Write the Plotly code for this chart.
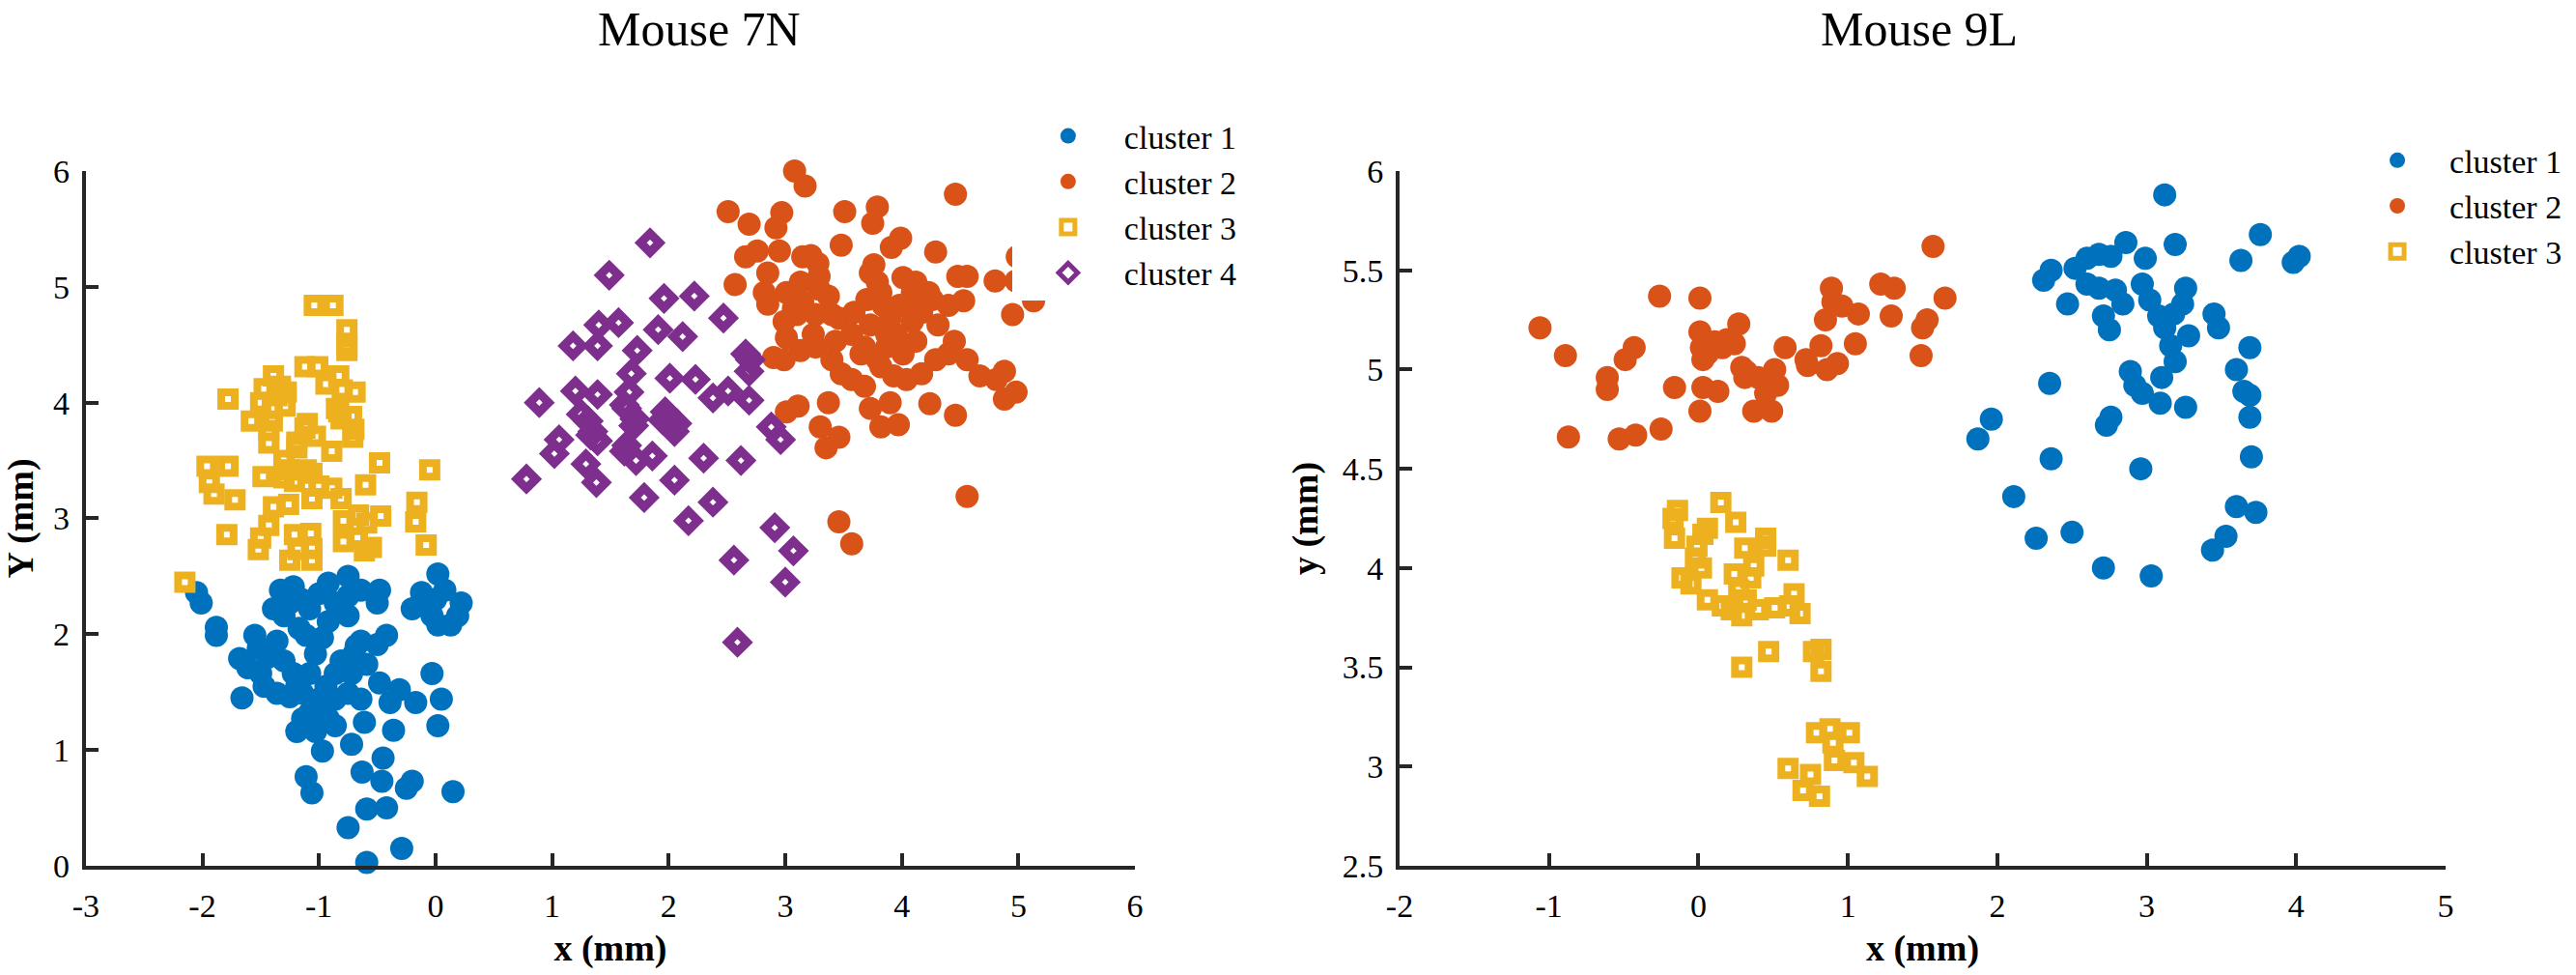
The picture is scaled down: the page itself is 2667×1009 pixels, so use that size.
import plotly.graph_objects as go

# ---- Mouse 7N ----
m7_c1_x = [-2.05, -2.01, -1.88, -1.88, -1.68, -1.66, -1.55, -1.52, -1.50, -1.44, -1.33, -1.30, -1.25, -1.22,
           -1.15, -1.17, -1.08, -1.11, -1.36, -1.30, -1.22, -1.19, -1.25, -1.14, -1.08, -1.03, -0.97, -0.92,
           -0.86, -0.92, -0.75, -0.75, -0.75, -0.64, -0.48, -0.50, -0.42, -0.50, -0.64, -0.70, -0.81, -0.86,
           -0.94, -1.00, -1.08, -1.19, -1.03, -0.97, -0.92, -0.86, -0.75, -0.64, -0.72, -0.59, -0.48, -0.31,
           -0.39, -0.17, -0.61, -0.72, -0.36, -0.03, 0.05, 0.02, -1.11, -1.06, -0.63, -0.45, -0.46, -0.20,
           -0.25, 0.15, -0.59, -0.42, -0.75, -0.29, -0.59, 0.02, -0.12, -0.14, 0.00, 0.08, 0.22, 0.19,
           0.02, 0.13, -0.03, -0.20, -1.39, -1.61, -1.47, -1.36, -1.14, -0.86, -0.68, -1.00]
m7_c1_y = [2.36, 2.27, 2.06, 1.99, 1.79, 1.45, 1.99, 1.88, 1.66, 1.80, 2.38, 2.16, 2.27, 2.41,
           2.30, 2.05, 2.22, 1.99, 1.94, 1.77, 1.66, 1.55, 1.46, 1.49, 1.66, 1.83, 1.97, 2.11,
           2.27, 2.44, 2.50, 2.33, 2.16, 2.38, 2.38, 2.27, 1.99, 1.91, 1.94, 1.83, 1.77, 1.66,
           1.55, 1.44, 1.32, 1.16, 1.16, 0.99, 1.27, 1.44, 1.49, 1.44, 1.66, 1.74, 1.58, 1.52,
           1.41, 1.41, 1.24, 1.05, 1.17, 1.66, 1.44, 1.21, 0.77, 0.63, 0.81, 0.93, 0.73, 0.73,
           0.67, 0.64, 0.49, 0.50, 0.33, 0.15, 0.03, 2.52, 2.36, 2.25, 2.30, 2.38, 2.27, 2.16,
           2.08, 2.08, 2.16, 2.22, 2.22, 1.71, 1.55, 1.49, 1.27, 1.21, 1.90, 2.35]

m7_c2_x = [3.08, 3.17, 2.51, 2.69, 2.97, 2.92, 3.51, 3.79, 3.75, 4.46, 3.99, 3.91, 3.48, 4.29, 2.66,
           2.57, 2.76, 2.85, 2.95, 3.22, 3.28, 3.76, 3.79, 3.82, 4.01, 4.12, 4.23, 4.48, 4.56, 4.99,
           4.98, 5.13, 4.95, 2.85, 3.01, 3.13, 3.29, 3.37, 3.10, 3.07, 3.24, 3.46, 3.59, 3.70, 3.73,
           3.90, 3.95, 4.09, 4.17, 4.26, 4.40, 4.53, 4.45, 4.56, 4.67, 4.88, 4.88, 4.98, 2.99, 3.13,
           3.26, 3.40, 3.48, 3.57, 3.68, 3.79, 3.87, 3.93, 4.04, 4.17, 4.29, 4.40, 3.01, 3.11, 3.37,
           3.30, 3.46, 3.35, 3.73, 3.82, 3.90, 3.97, 4.24, 4.46, 4.56, 3.46, 3.57, 3.68, 4.01, 4.12,
           3.87, 3.15, 3.40, 3.57, 3.65, 3.82, 3.43, 3.26, 3.29, 2.82, 2.99, 3.01, 2.90, 3.15, 3.73,
           3.84, 3.98, 4.09, 4.12, 4.31, 4.81, 4.80]
m7_c2_y = [6.00, 5.87, 5.65, 5.54, 5.64, 5.51, 5.65, 5.69, 5.55, 5.80, 5.42, 5.34, 5.36, 5.30, 5.26,
           5.02, 5.31, 5.12, 5.31, 5.27, 5.20, 5.19, 5.04, 4.95, 5.08, 5.04, 4.95, 5.09, 5.09, 5.26,
           5.05, 4.88, 4.76, 4.85, 4.95, 5.04, 4.98, 4.92, 4.76, 4.81, 4.59, 4.73, 4.78, 4.89, 4.67,
           4.73, 4.59, 4.70, 4.78, 4.89, 4.84, 4.88, 4.53, 4.37, 4.23, 4.27, 4.03, 4.09, 4.37, 4.45,
           4.48, 4.37, 4.25, 4.20, 4.14, 4.37, 4.48, 4.23, 4.20, 4.25, 4.37, 4.42, 3.92, 3.97, 4.00,
           3.79, 3.70, 3.61, 3.95, 3.79, 4.00, 3.81, 3.99, 3.89, 3.19, 2.97, 2.78, 4.48, 4.42, 4.53,
           4.59, 4.87, 4.76, 4.59, 4.42, 4.31, 4.53, 4.76, 5.09, 4.95, 4.70, 4.56, 4.39, 5.26, 5.12,
           4.84, 4.84, 4.95, 4.84, 4.67, 4.20, 5.05]

m7_c3_x = [-1.04, -0.88, -0.76, -0.76, -0.76, -1.12, -1.01, -0.83, -0.94, -0.80, -0.69, -1.78, -1.39,
           -1.47, -1.33, -1.29, -1.40, -1.50, -1.58, -1.40, -1.43, -1.10, -1.03, -0.85, -0.81, -0.71,
           -0.89, -0.48, -0.05, -1.19, -1.30, -1.11, -1.21, -1.30, -1.48, -1.96, -1.78, -1.94, -1.90,
           -1.72, -1.06, -0.89, -0.81, -0.60, -1.39, -1.26, -1.43, -1.50, -1.52, -1.79, -1.21, -1.07,
           -1.18, -1.25, -1.06, -1.06, -0.79, -0.66, -0.59, -0.47, -0.79, -0.67, -0.55, -0.61, -0.16,
           -0.17, -0.08, -2.15, -1.36, -1.28, -1.12, -1.19, -0.72, -0.70, -0.83, -1.43, -1.26, -1.06,
           -1.00]
m7_c3_y = [4.84, 4.84, 4.63, 4.45, 4.50, 4.31, 4.31, 4.23, 4.16, 4.11, 4.09, 4.03, 4.23,
           4.12, 4.14, 3.97, 3.95, 4.00, 3.84, 3.84, 3.65, 3.82, 3.71, 3.95, 3.86, 3.70,
           3.58, 3.48, 3.42, 3.61, 3.50, 3.42, 3.32, 3.35, 3.36, 3.45, 3.45, 3.31, 3.21,
           3.16, 3.17, 3.26, 3.17, 3.29, 3.10, 3.12, 2.94, 2.83, 2.73, 2.86, 2.86, 2.87,
           2.73, 2.64, 2.74, 2.64, 2.98, 3.03, 2.96, 3.02, 2.80, 2.83, 2.75, 2.72, 3.14,
           2.97, 2.77, 2.45, 4.06, 4.09, 3.78, 3.66, 3.88, 3.77, 3.92, 3.76, 3.42, 3.39,
           3.28]

m7_c4_x = [1.84, 1.49, 1.96, 2.22, 2.47, 1.40, 1.57, 1.18, 1.39, 1.91, 2.12, 1.73, 1.68, 2.01, 2.23,
           2.70, 2.69, 2.38, 2.51, 2.69, 0.89, 1.20, 1.39, 1.66, 1.64, 1.71, 1.97, 2.07, 1.31, 1.33,
           1.39, 1.06, 1.02, 1.64, 1.86, 2.30, 2.62, 2.88, 2.96, 0.78, 1.29, 1.38, 2.05, 1.79, 2.38,
           2.17, 2.91, 2.56, 3.00, 3.07, 2.59, 1.62, 1.70, 1.95, 2.05, 1.25, 1.35, 1.62, 1.72, 2.66]
m7_c4_y = [5.38, 5.10, 4.90, 4.92, 4.73, 4.67, 4.69, 4.49, 4.49, 4.63, 4.57, 4.45, 4.25, 4.21, 4.20,
           4.37, 4.27, 4.04, 4.10, 4.02, 4.00, 4.10, 4.07, 4.09, 3.95, 3.86, 3.92, 3.82, 3.84, 3.72,
           3.67, 3.68, 3.56, 3.63, 3.54, 3.52, 3.50, 3.79, 3.68, 3.34, 3.47, 3.31, 3.33, 3.18, 3.14,
           2.98, 2.92, 2.64, 2.45, 2.72, 1.93, 3.98, 3.80, 3.85, 3.75, 3.90, 3.75, 3.58, 3.50, 4.42]

# ---- Mouse 9L ----
m9_c1_x = [3.12, 3.19, 3.76, 3.63, 3.98, 4.02, 2.31, 2.36, 2.47, 2.52, 2.60, 2.68, 2.76, 2.86, 2.99,
           2.60, 2.68, 2.79, 2.84, 2.71, 2.75, 2.97, 3.02, 3.08, 3.12, 3.18, 3.24, 3.26, 3.28, 3.16,
           3.19, 3.10, 2.89, 2.92, 2.97, 3.09, 3.26, 3.45, 3.48, 3.69, 3.60, 3.65, 3.69, 3.69, 3.70,
           2.35, 1.87, 1.96, 2.76, 2.73, 2.36, 2.96, 2.11, 2.26, 2.50, 2.71, 3.03, 3.60, 3.73, 3.44,
           3.53]
m9_c1_y = [5.88, 5.63, 5.68, 5.55, 5.54, 5.57, 5.45, 5.50, 5.33, 5.51, 5.56, 5.58, 5.57, 5.64, 5.56,
           5.43, 5.41, 5.40, 5.33, 5.27, 5.20, 5.43, 5.35, 5.27, 5.21, 5.28, 5.33, 5.41, 5.17, 5.12,
           5.04, 4.96, 4.99, 4.92, 4.88, 4.83, 4.81, 5.28, 5.21, 5.11, 5.00, 4.89, 4.87, 4.76, 4.56,
           4.93, 4.65, 4.75, 4.76, 4.72, 4.55, 4.50, 4.36, 4.15, 4.18, 4.00, 3.96, 4.31, 4.28, 4.09,
           4.16]

m9_c2_x = [-1.06, -0.89, -0.87, -0.61, -0.61, -0.53, -0.49, -0.43, -0.42, -0.26, -0.25, -0.16, 0.01,
           0.01, 0.02, 0.03, 0.01, 0.03, 0.11, 0.13, 0.16, 0.24, 0.27, 0.29, 0.31, 0.37, 0.40, 0.45,
           0.49, 0.51, 0.53, 0.58, 0.72, 0.73, 0.82, 0.85, 0.86, 0.89, 0.90, 0.93, 0.96, 1.05, 1.07,
           1.22, 1.29, 1.31, 1.49, 1.50, 1.53, 1.57, 1.65, 0.06, 0.19, 0.32]
m9_c2_y = [5.21, 5.07, 4.66, 4.96, 4.90, 4.65, 5.05, 5.11, 4.67, 5.37, 4.70, 4.91, 5.36,
           5.19, 5.11, 5.05, 4.79, 4.91, 5.14, 4.89, 5.11, 5.13, 5.23, 5.01, 4.96, 4.79, 4.96, 4.88,
           4.79, 5.00, 4.92, 5.11, 5.05, 5.02, 5.12, 5.25, 5.00, 5.41, 5.34, 5.03, 5.32, 5.13, 5.28,
           5.43, 5.27, 5.41, 5.07, 5.21, 5.25, 5.62, 5.36, 5.08, 5.15, 4.99]

m9_c3_x = [-0.17, -0.14, 0.15, 0.25, -0.16, 0.03, 0.06, -0.01, -0.02, 0.02, -0.11, -0.05, 0.06, 0.16,
           0.22, 0.29, 0.24, 0.31, 0.27, 0.35, 0.37, 0.45, 0.45, 0.60, 0.32, 0.40, 0.51, 0.61, 0.64,
           0.68, 0.47, 0.29, 0.77, 0.82, 0.82, 0.79, 0.88, 0.90, 1.01, 0.60, 0.75, 0.70, 0.81, 0.91,
           1.04, 1.13]
m9_c3_y = [4.25, 4.29, 4.33, 4.23, 4.15, 4.17, 4.20, 4.11, 4.05, 4.00, 3.95, 3.92, 3.84, 3.81,
           3.79, 3.76, 3.97, 4.10, 3.89, 3.95, 4.01, 4.15, 4.11, 4.04, 3.84, 3.79, 3.80, 3.81, 3.87,
           3.77, 3.58, 3.50, 3.58, 3.59, 3.48, 3.17, 3.19, 3.12, 3.17, 2.99, 2.96, 2.88, 2.85, 3.03,
           3.02, 2.95]

x_ticks_7n = [-3, -2, -1, 0, 1, 2, 3, 4, 5, 6]
x_ticks_9l = [-2, -1, 0, 1, 2, 3, 4, 5]
y_ticks_7n = [0, 1, 2, 3, 4, 5, 6]
y_ticks_9l = [2.5, 3, 3.5, 4, 4.5, 5, 5.5, 6]

BLUE, ORANGE, YELLOW, PURPLE = "#0072BD", "#D95319", "#EDB120", "#7E2F8E"
FONT = "Liberation Serif"

circle = dict(symbol="circle", size=24, line=dict(width=0))
square = dict(symbol="square-open", size=14, line=dict(width=8))
diamond = dict(symbol="diamond-open", size=15, line=dict(width=9))

fig = go.Figure()

left = [
    ("cluster 1", m7_c1_x, m7_c1_y, BLUE, circle),
    ("cluster 2", m7_c2_x, m7_c2_y, ORANGE, circle),
    ("cluster 3", m7_c3_x, m7_c3_y, YELLOW, square),
    ("cluster 4", m7_c4_x, m7_c4_y, PURPLE, diamond),
]
for name, xs, ys, col, mk in left:
    fig.add_trace(go.Scatter(x=xs, y=ys, mode="markers", name=name, cliponaxis=False,
                             marker=dict(color=col, **mk), xaxis="x", yaxis="y", legend="legend"))

right = [
    ("cluster 1", m9_c1_x, m9_c1_y, BLUE, circle),
    ("cluster 2", m9_c2_x, m9_c2_y, ORANGE, circle),
    ("cluster 3", m9_c3_x, m9_c3_y, YELLOW, square),
]
for name, xs, ys, col, mk in right:
    fig.add_trace(go.Scatter(x=xs, y=ys, mode="markers", name=name, cliponaxis=False,
                             marker=dict(color=col, **mk), xaxis="x2", yaxis="y2", legend="legend2"))


def fmt(v):
    # plain hyphen for negatives, like the original figure
    return "%g" % v


axis_common = dict(showline=True, linecolor="#262626", linewidth=4, ticks="inside", ticklen=13,
                   tickwidth=4, tickcolor="#262626", showgrid=False, zeroline=False, mirror=False,
                   automargin=False, tickfont=dict(family=FONT, size=34, color="black"))
title_font = dict(family=FONT, size=38, color="black", weight="bold")

fig.update_layout(
    width=2667, height=1009,
    margin=dict(l=0, r=0, t=0, b=0, autoexpand=False),
    paper_bgcolor="white", plot_bgcolor="white",
    xaxis=dict(domain=[0.0333, 0.4406], range=[-3, 6], anchor="y", tickvals=x_ticks_7n,
               ticktext=[fmt(v) for v in x_ticks_7n], ticklabelstandoff=8,
               title=dict(text="x (mm)", font=title_font, standoff=14), **axis_common),
    yaxis=dict(domain=[0.112, 0.8246], range=[0, 6], anchor="x", tickvals=y_ticks_7n,
               ticktext=[fmt(v) for v in y_ticks_7n], ticklabelstandoff=6,
               title=dict(text="Y (mm)", font=title_font, standoff=14), **axis_common),
    xaxis2=dict(domain=[0.5433, 0.9494], range=[-2, 5], anchor="y2", tickvals=x_ticks_9l,
                ticktext=[fmt(v) for v in x_ticks_9l], ticklabelstandoff=8,
                title=dict(text="x (mm)", font=title_font, standoff=14), **axis_common),
    yaxis2=dict(domain=[0.112, 0.8246], range=[2.5, 6], anchor="x2", tickvals=y_ticks_9l,
                ticktext=[fmt(v) for v in y_ticks_9l], ticklabelstandoff=6,
                title=dict(text="y (mm)", font=title_font, standoff=14), **axis_common),
    legend=dict(x=0.3929, y=0.889, xanchor="left", yanchor="top", bgcolor="white",
                itemwidth=106, font=dict(family=FONT, size=34, color="black")),
    legend2=dict(x=0.9104, y=0.864, xanchor="left", yanchor="top", bgcolor="rgba(0,0,0,0)",
                 itemwidth=98, font=dict(family=FONT, size=34, color="black")),
    annotations=[
        dict(text="Mouse 7N", x=0.2715, y=1, xref="paper", yref="paper", showarrow=False,
             xanchor="center", yanchor="top", font=dict(family=FONT, size=50, color="black")),
        dict(text="Mouse 9L", x=0.745, y=1, xref="paper", yref="paper", showarrow=False,
             xanchor="center", yanchor="top", font=dict(family=FONT, size=50, color="black")),
    ],
)

# drop the browser's default 8px page margin so the figure sits at the window origin
fig.write_html("out.html", config={"displayModeBar": False},
               post_script="document.body.style.margin = '0';")
